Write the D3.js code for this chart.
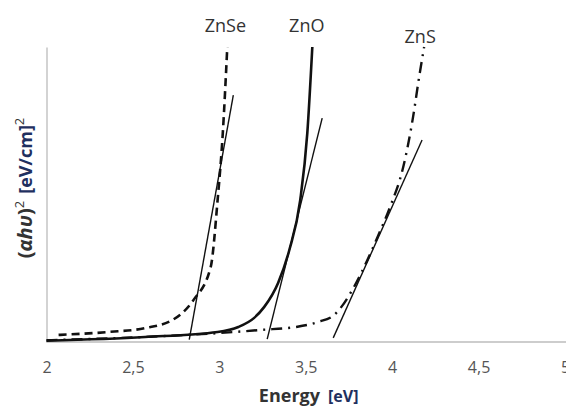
<!DOCTYPE html>
<html>
<head>
<meta charset="utf-8">
<script src="https://cdn.jsdelivr.net/npm/d3@7"></script>
<style>
  html, body { margin: 0; padding: 0; background: #fff; }
  svg { display: block; }
</style>
</head>
<body>
<svg id="chart" width="566" height="409"></svg>
<script>
// ---- data ----
const xTicks = [2, 2.5, 3, 3.5, 4, 4.5, 5];
const xTickLabels = ["2", "2,5", "3", "3,5", "4", "4,5", "5"];

const znseX = [2.07, 2.36, 2.57, 2.73, 2.85, 2.95, 2.99, 3.02, 3.046];
const znseY = [2.4, 3.4, 4.7, 7.5, 14.2, 25.4, 48.1, 70.8, 100];

const znoX = [2.0, 2.57, 2.99, 3.11, 3.20, 3.26, 3.34, 3.405, 3.468, 3.509, 3.538];
const znoY = [0.4, 1.7, 3.4, 5.1, 8.1, 11.9, 20, 31.2, 48.1, 70.8, 100];

const znsX = [2.0, 2.6, 3.09, 3.24, 3.445, 3.572, 3.665, 3.769, 3.821, 3.925, 3.988, 4.064, 4.121, 4.156, 4.185];
const znsY = [0.6, 1.8, 3.4, 4.1, 5.1, 6.8, 9.2, 17.6, 23.4, 36.9, 45.8, 59.3, 76.3, 89.8, 100];

// tangent lines (two end points each)
const tanZnseX = [2.826, 3.081];
const tanZnseY = [0.8, 83.7];
const tanZnoX = [3.277, 3.595];
const tanZnoY = [1.0, 75.9];
const tanZnsX = [3.659, 4.173];
const tanZnsY = [1.4, 68.5];

const seriesNames = ["ZnSe", "ZnO", "ZnS"];
const labelX = [3.035, 3.506, 4.162];
const labelY = [105.1, 105.1, 101.4];

// ---- layout ----
const svg = d3.select("#chart");
const x = d3.scaleLinear().domain([2, 5]).range([46.5, 565]);
const y = d3.scaleLinear().domain([0, 100]).range([342, 47]);

// axes
const xAxis = svg.append("g")
  .attr("transform", "translate(0," + y(0) + ")")
  .call(d3.axisBottom(x).tickValues(xTicks).tickSize(0).tickPadding(20)
        .tickFormat((d, i) => xTickLabels[i]));
xAxis.select(".domain").attr("stroke", "#bdbdbd").attr("stroke-width", 1.5)
  .attr("d", "M" + x(2) + ",0H566");
xAxis.selectAll("text").attr("fill", "#555").attr("font-size", 16)
  .attr("font-family", "Open Sans, sans-serif");

const yAxis = svg.append("g")
  .attr("transform", "translate(" + x(2) + ",0)")
  .call(d3.axisLeft(y).tickValues([]).tickSize(0));
yAxis.select(".domain").attr("stroke", "#c4c4c4").attr("stroke-width", 1.5);

// curves
const line = d3.line().x(d => x(d[0])).y(d => y(d[1])).curve(d3.curveMonotoneX);
const straight = d3.line().x(d => x(d[0])).y(d => y(d[1]));
const zip = (a, b) => a.map((v, i) => [v, b[i]]);

const g = svg.append("g").attr("fill", "none").attr("stroke", "#111");

g.append("path").datum(zip(znseX, znseY)).attr("d", line)
  .attr("stroke-width", 2.6).attr("stroke-dasharray", "8,5");
g.append("path").datum(zip(znoX, znoY)).attr("d", line)
  .attr("stroke-width", 2.6);
g.append("path").datum(zip(znsX, znsY)).attr("d", line)
  .attr("stroke-width", 2.4).attr("stroke-dasharray", "11,6,2,6");

[[tanZnseX, tanZnseY], [tanZnoX, tanZnoY], [tanZnsX, tanZnsY]].forEach(t => {
  g.append("path").datum(zip(t[0], t[1])).attr("d", straight)
    .attr("stroke-width", 1.4);
});

// series labels
svg.selectAll("text.lbl").data(seriesNames).enter().append("text")
  .attr("class", "lbl")
  .attr("x", (d, i) => x(labelX[i]))
  .attr("y", (d, i) => y(labelY[i]))
  .attr("text-anchor", "middle")
  .attr("font-family", "Open Sans, sans-serif")
  .attr("font-size", 18).attr("fill", "#333")
  .text(d => d);

// x title
svg.append("text")
  .attr("x", 320).attr("y", 402)
  .attr("text-anchor", "end")
  .attr("font-family", "Open Sans, sans-serif")
  .attr("font-size", 18).attr("font-weight", "bold").attr("fill", "#333")
  .text("Energy");
svg.append("text")
  .attr("x", 328).attr("y", 402)
  .attr("text-anchor", "start")
  .attr("font-family", "Open Sans, sans-serif")
  .attr("font-size", 16).attr("font-weight", "bold").attr("fill", "#1f3060")
  .text("[eV]");

// y title
const yt = svg.append("text")
  .attr("transform", "translate(32,188) rotate(-90)")
  .attr("text-anchor", "middle")
  .attr("font-family", "Open Sans, sans-serif")
  .attr("font-size", 20).attr("font-weight", "bold");
yt.append("tspan").attr("fill", "#333").text("(");
yt.append("tspan").attr("fill", "#333").attr("font-style", "italic").text("αhυ");
yt.append("tspan").attr("fill", "#333").text(")");
yt.append("tspan").attr("fill", "#333").attr("font-weight", "normal").attr("font-size", 13).attr("dy", -8).text("2");
yt.append("tspan").attr("fill", "#1f3060").attr("font-size", 18).attr("dy", 8).attr("dx", 7).text("[eV/cm]");
yt.append("tspan").attr("fill", "#333").attr("font-weight", "normal").attr("font-size", 13).attr("dy", -8).text("2");
</script>
</body>
</html>
